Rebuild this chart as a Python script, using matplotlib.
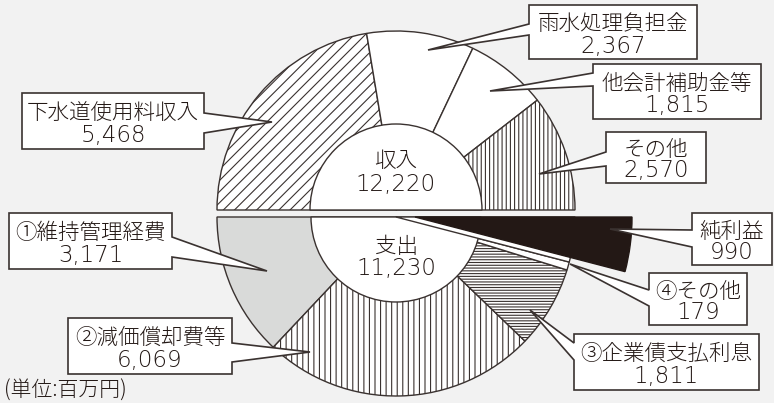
import matplotlib
matplotlib.use('Agg')
import matplotlib.pyplot as plt
from matplotlib.patches import Wedge, Polygon

plt.rcParams['font.family'] = ['Noto Sans CJK JP', 'DejaVu Sans']
plt.rcParams['hatch.linewidth'] = 0.8
plt.rcParams['hatch.color'] = '#3a3230'

# 収入 (上半分)
inc_labels = ['下水道使用料収入', '雨水処理負担金', '他会計補助金等', 'その他']
inc_values = [5468, 2367, 1815, 2570]
inc_total = 12220

# 支出 (下半分)
exp_labels = ['①維持管理経費', '②減価償却費等', '③企業債支払利息', '④その他', '純利益']
exp_values = [3171, 6069, 1811, 179, 990]
exp_total = 11230

unit_text = '(単位:百万円)'

LINE = '#3a3230'
TXT = '#231815'
BG = '#f2f2f2'

fig = plt.figure(figsize=(7.74, 4.03), dpi=100, facecolor=BG)
ax = fig.add_axes([0, 0, 1, 1])
ax.set_facecolor(BG)

cx = 396
top_cy, bot_cy = 210, 217
R = 179

half_total = sum(inc_values)
top_fr = [v / half_total / 2 for v in inc_values]
bot_fr = [v / half_total / 2 for v in exp_values]

wp = dict(edgecolor=LINE, linewidth=1.0)
top_w, _ = ax.pie(top_fr, startangle=180, counterclock=True, normalize=False,
                  radius=R, center=(cx, top_cy),
                  colors=['white', 'white', 'white', 'white'],
                  hatch=['///', '', '', '||||'], wedgeprops=wp)
bot_w, _ = ax.pie(bot_fr, startangle=180, counterclock=False, normalize=False,
                  radius=R, center=(cx, bot_cy),
                  colors=['#d9dad9', 'white', 'white', 'white', 'white'],
                  hatch=['', '|||', '------', '', ''], wedgeprops=wp)

# 中央の白い穴
ax.add_patch(Wedge((cx, top_cy), 86, 180, 360, facecolor='white',
                   edgecolor=LINE, linewidth=1.0, zorder=2))
ax.add_patch(Wedge((cx, bot_cy), 85, 0, 180, facecolor='white',
                   edgecolor=LINE, linewidth=1.0, zorder=2))

# 純利益: 元の位置は白、黒い扇を右にずらして描く
slot = bot_w[-1]
slot.set_zorder(3)
ax.add_patch(Wedge((cx + 19, bot_cy), 217, slot.theta1, slot.theta2,
                   facecolor='#231815', edgecolor='#231815', linewidth=1.0,
                   zorder=4))


def callout(box, tip, side, b0, b1):
    x0, y0, x1, y1 = box
    if side == 'right':
        pts = [(x0, y0), (x1, y0), (x1, b0), tip, (x1, b1), (x1, y1), (x0, y1)]
    else:
        pts = [(x0, y0), (x1, y0), (x1, y1), (x0, y1), (x0, b1), tip, (x0, b0)]
    ax.add_patch(Polygon(pts, closed=True, facecolor='white', edgecolor=LINE,
                         linewidth=1.2, joinstyle='miter', zorder=5))


def two_lines(xm, ya, yb, name, value):
    ax.text(xm, ya, name, ha='center', va='center', fontsize=15.5,
            fontweight='light', color=TXT, zorder=6)
    ax.text(xm, yb, value, ha='center', va='center', fontsize=16.5,
            fontweight='light', color=TXT, family='DejaVu Sans', zorder=6)


def label(box, name, value):
    x0, y0, x1, y1 = box
    h = y1 - y0
    two_lines((x0 + x1) / 2, y0 + h * 0.36, y0 + h * 0.76, name, value)


# 収入のラベル
inc_boxes = [(22, 93, 204, 149), (529, 5, 697, 59),
             (593, 64, 761, 119), (606, 132, 706, 183)]
inc_tips = [((272, 122), 'right', 113, 133), ((428, 50), 'left', 24, 35),
            ((490, 91), 'left', 73, 86), ((539, 174), 'left', 152, 166)]
for box, (tip, side, b0, b1), name, v in zip(inc_boxes, inc_tips, inc_labels, inc_values):
    callout(box, tip, side, b0, b1)
    label(box, name, f'{v:,}')

# 支出のラベル
exp_boxes = [(9, 213, 172, 269), (68, 318, 232, 374), (574, 334, 759, 390),
             (649, 273, 747, 325), (692, 213, 772, 265)]
exp_tips = [((267, 271), 'right', 237, 257), ((310, 352), 'right', 343, 362),
            ((530, 310), 'left', 343, 360), ((570, 264), 'left', 290, 306),
            ((610, 229), 'left', 230, 247)]
for box, (tip, side, b0, b1), name, v in zip(exp_boxes, exp_tips, exp_labels, exp_values):
    callout(box, tip, side, b0, b1)
    label(box, name, f'{v:,}')

# 中央の合計
two_lines(cx, 161, 184, '収入', f'{inc_total:,}')
two_lines(cx, 247, 269, '支出', f'{exp_total:,}')

ax.text(4, 391, unit_text, ha='left', va='center', fontsize=15,
        fontweight='light', color=TXT)

ax.set_xlim(0, 774)
ax.set_ylim(403, 0)
ax.set_aspect('auto')
ax.axis('off')

fig.savefig('out.png', dpi=100, facecolor=BG)
